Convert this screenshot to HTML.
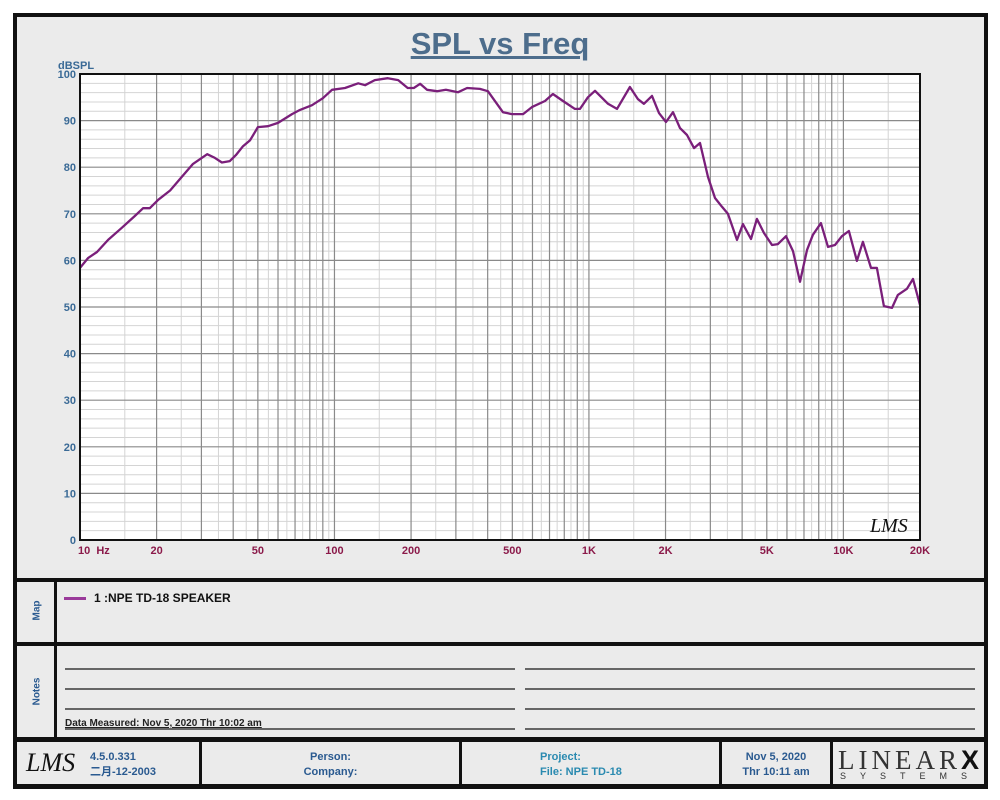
<!DOCTYPE html>
<html><head><meta charset="utf-8"><style>
body{margin:0;width:1000px;height:800px;background:#fff;position:relative;overflow:hidden;font-family:"Liberation Sans","Noto Sans CJK SC",sans-serif}
.a{position:absolute}
.panel{position:absolute;background:#ebebeb}
.bk{position:absolute;background:#111}
.side{position:absolute;color:#2a5a90;font-weight:bold;font-size:10px;transform:rotate(-90deg);transform-origin:center}
.nl{position:absolute;height:2px;background:#666}
.ft{position:absolute;font-size:11px;font-weight:bold;text-align:center;line-height:15px}
</style></head><body>
<div class="bk" style="left:13px;top:13px;width:975px;height:776px"></div>
<div class="panel" style="left:17px;top:17px;width:967px;height:561px"></div>
<div class="panel" style="left:17px;top:582px;width:967px;height:60px"></div>
<div class="panel" style="left:17px;top:646px;width:967px;height:91px"></div>
<div class="panel" style="left:17px;top:742px;width:967px;height:42px"></div>
<div class="bk" style="left:54px;top:582px;width:3px;height:155px"></div>
<div class="side" style="left:22px;top:605px;width:30px;text-align:center">Map</div>
<div class="side" style="left:17px;top:686px;width:40px;text-align:center">Notes</div>

<div class="a" style="left:0;width:1000px;top:26px;text-align:center;font-size:31px;font-weight:bold;color:#4d6d8c;text-decoration:underline">SPL vs Freq</div>

<svg class="a" style="left:0;top:0" width="1000" height="580">
<g id="grid"></g>
<polyline id="curve" fill="none" stroke="#7a1f7a" stroke-width="2.3" stroke-linejoin="round"></polyline>
<rect x="80" y="74" width="840" height="466" fill="none" stroke="#111" stroke-width="2"></rect>
<text x="58" y="69" font-size="11" font-weight="bold" fill="#3a6a96" font-family="Liberation Sans">dBSPL</text>
<text x="870" y="532" font-size="20" font-style="italic" fill="#111" font-family="Liberation Serif">LMS</text>
<g id="labels"></g>
</svg>

<div class="a" style="left:64px;top:591px;font-size:12px;font-weight:bold;color:#111"><span style="display:inline-block;width:22px;height:3px;background:#9a3a9a;vertical-align:middle;margin-right:8px"></span>1 :NPE TD-18 SPEAKER</div>

<div class="nl" style="left:65px;top:668px;width:450px"></div>
<div class="nl" style="left:525px;top:668px;width:450px"></div>
<div class="nl" style="left:65px;top:688px;width:450px"></div>
<div class="nl" style="left:525px;top:688px;width:450px"></div>
<div class="nl" style="left:65px;top:708px;width:450px"></div>
<div class="nl" style="left:525px;top:708px;width:450px"></div>
<div class="nl" style="left:65px;top:728px;width:450px"></div>
<div class="nl" style="left:525px;top:728px;width:450px"></div>
<div class="a" style="left:65px;top:718px;font-size:10px;font-weight:bold;color:#222;text-decoration:underline">Data Measured: Nov  5, 2020  Thr 10:02 am</div>

<div class="bk" style="left:199px;top:742px;width:3px;height:42px"></div>
<div class="bk" style="left:459px;top:742px;width:3px;height:42px"></div>
<div class="bk" style="left:719px;top:742px;width:3px;height:42px"></div>
<div class="bk" style="left:830px;top:742px;width:3px;height:42px"></div>
<div class="a" style="left:26px;top:748px;font-size:26px;font-style:italic;font-family:'Liberation Serif',serif;color:#111">LMS</div>
<div class="ft" style="left:90px;top:750px;text-align:left;color:#2a5a90">4.5.0.331<br>二月-12-2003</div>
<div class="ft" style="left:202px;width:257px;top:750px;color:#2a5a90">Person:<br>Company:</div>
<div class="ft" style="left:540px;top:750px;text-align:left;color:#2a8ab0">Project:<br>File: NPE TD-18</div>
<div class="ft" style="left:722px;width:108px;top:750px;color:#2a5a90">Nov  5, 2020<br>Thr 10:11 am</div>
<div class="a" style="left:838px;top:745px;font-family:'Liberation Serif',serif;font-size:27px;letter-spacing:4px;color:#333">LINEAR<b style="font-family:'Liberation Sans';color:#111">X</b></div>
<div class="a" style="left:840px;top:771px;font-size:9px;letter-spacing:14px;color:#333">SYSTEMS</div>

<script>
const freqs=[10,10.75,11.66,12.9,14.6,16.4,17.7,18.8,20.3,22.6,25.2,27.8,31.6,33.9,36.1,38.8,41,43.7,46.6,50,54.8,60,68.1,73.2,81.6,90.1,97.8,110,124,132,144,162,178,194,205,217,231,253,274,306,332,373,401,459,498,551,597,672,722,791,881,922,991,1056,1188,1289,1449,1559,1644,1769,1885,2009,2139,2279,2429,2587,2731,2937,3129,3334,3518,3817,4028,4333,4573,4871,5239,5529,5947,6337,6751,7191,7589,8161,8696,9266,9869,10514,11300,11935,12834,13546,14430,15518,16378,17768,18770,20000];
const spl=[58.4,60.5,61.8,64.4,67,69.5,71.2,71.2,73,75,78,80.7,82.8,82,81,81.3,82.6,84.5,85.8,88.6,88.8,89.5,91.4,92.3,93.3,94.8,96.6,97,98,97.6,98.7,99.1,98.7,97,97,97.9,96.6,96.3,96.6,96.1,97,96.8,96.3,91.8,91.4,91.4,92.9,94.2,95.7,94.2,92.5,92.5,95,96.4,93.6,92.5,97.2,94.6,93.6,95.3,91.6,89.7,91.8,88.4,86.9,84.1,85.2,77.9,73.4,71.5,70,64.4,67.8,64.6,68.9,65.9,63.3,63.5,65.2,62,55.4,62.2,65.5,68,62.9,63.3,65.2,66.3,59.9,64,58.4,58.4,50.2,49.8,52.6,53.9,56,50.4];
const xTicks=[10,20,50,100,200,500,1000,2000,5000,10000,20000];
const xTickLabels=["10  Hz","20","50","100","200","500","1K","2K","5K","10K","20K"];
const yTicks=[0,10,20,30,40,50,60,70,80,90,100];
const X0=80,X1=920,Y0=540,Y1=74;
function xs(f){return X0+(Math.log10(f)-1)/Math.log10(2000)*(X1-X0);}
function ys(v){return Y0-v/100*(Y0-Y1);}
const NS="http://www.w3.org/2000/svg";
const g=document.getElementById('grid'),lb=document.getElementById('labels');
function line(x1,y1,x2,y2,c,w,name){const l=document.createElementNS(NS,'line');l.setAttribute('x1',x1);l.setAttribute('y1',y1);l.setAttribute('x2',x2);l.setAttribute('y2',y2);l.setAttribute('stroke',c);l.setAttribute('stroke-width',w);


g.appendChild(l);}
const bg=document.createElementNS(NS,'rect');bg.setAttribute('x',X0);bg.setAttribute('y',Y1);bg.setAttribute('width',X1-X0);bg.setAttribute('height',Y0-Y1);bg.setAttribute('fill','#fff');


g.appendChild(bg);
for(let v=0;v<=100;v+=2){if(v%10)line(X0,ys(v),X1,ys(v),'#d4d4d4',1,'minor-h-grid');}
for(let d=10;d<20000;d*=10){for(let m=1;m<10;m++){const f=d*m,fh=d*(m+0.5);if(fh<=20000)line(xs(fh),Y1,xs(fh),Y0,'#d4d4d4',1,'minor-v-grid');}}
for(let d=10;d<20000;d*=10){for(let m=1;m<10;m++){const f=d*m;if(f<=20000)line(xs(f),Y1,xs(f),Y0,'#8a8a8a',1.2,'major-v-grid');}}
yTicks.forEach(v=>{line(X0,ys(v),X1,ys(v),'#8a8a8a',1.2,'major-h-grid');
const t=document.createElementNS(NS,'text');t.setAttribute('x',X0-4);t.setAttribute('y',ys(v)+4);t.setAttribute('text-anchor','end');t.setAttribute('font-size','11');t.setAttribute('font-weight','bold');t.setAttribute('fill','#3a6a96');t.textContent=v;


lb.appendChild(t);});
xTicks.forEach((f,i)=>{const t=document.createElementNS(NS,'text');t.setAttribute('x',xs(f)+(i==0?-2:0));t.setAttribute('y',554);t.setAttribute('text-anchor',i==0?'start':'middle');t.setAttribute('font-size','11');t.setAttribute('font-weight','bold');t.setAttribute('fill','#8b1a4a');t.setAttribute('xml:space','preserve');t.style.whiteSpace='pre';t.textContent=xTickLabels[i];


lb.appendChild(t);});
document.getElementById('curve').setAttribute('points',freqs.map((f,i)=>xs(f).toFixed(1)+','+ys(spl[i]).toFixed(1)).join(' '));
</script>
</body></html>
